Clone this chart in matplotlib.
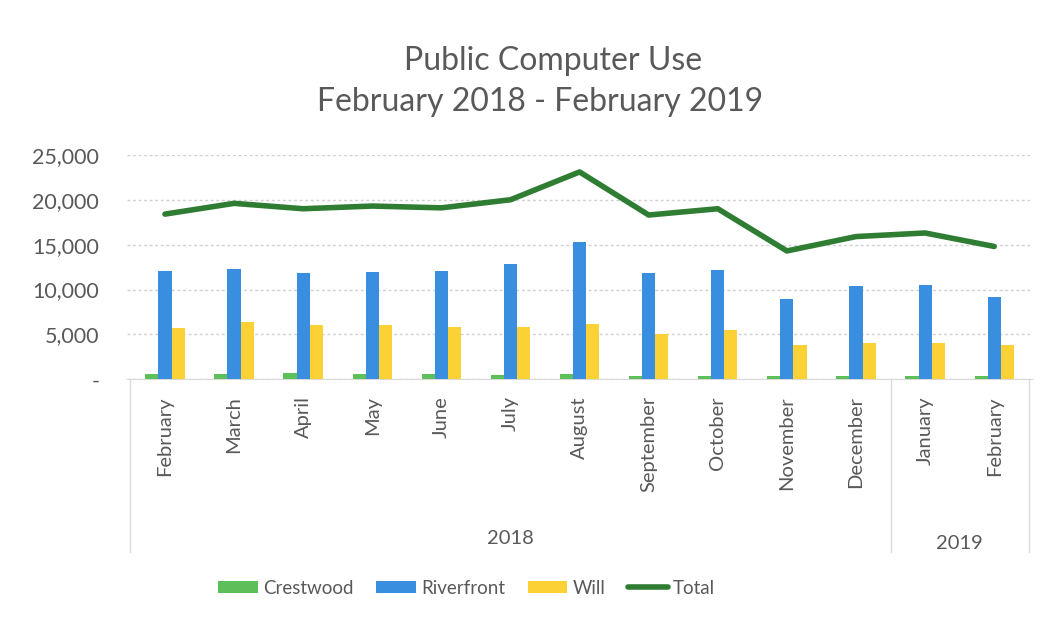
import matplotlib
matplotlib.use('Agg')
import matplotlib.pyplot as plt
import numpy as np

months = ['February', 'March', 'April', 'May', 'June', 'July', 'August',
          'September', 'October', 'November', 'December', 'January', 'February']
years = ['2018', '2019']
year_counts = [11, 2]

crestwood = [600, 620, 650, 550, 560, 520, 560, 420, 380, 420, 330, 320, 400]
riverfront = [12100, 12300, 11800, 12000, 12100, 12900, 15300, 11800, 12200,
              9000, 10400, 10500, 9200]
will = [5700, 6400, 6100, 6000, 5800, 5800, 6200, 5100, 5500, 3800, 4100,
        4100, 3800]
total = [18400, 19600, 19000, 19300, 19100, 20000, 23100, 18300, 19000,
         14300, 15900, 16300, 14800]

plt.rcParams['font.family'] = ['Lato', 'DejaVu Sans']
txt = '#595959'

fig = plt.figure(figsize=(10.49, 6.27), dpi=100)
# plot area ~ x 125..1032, y 155..379 px
ax = fig.add_axes([0.121, 0.395, 0.863, 0.358])

x = np.arange(len(months))
w = 0.19
b1 = ax.bar(x - w, crestwood, w, color='#5cbf5a', label='Crestwood', zorder=3)
b2 = ax.bar(x, riverfront, w, color='#3a8ee0', label='Riverfront', zorder=3)
b3 = ax.bar(x + w, will, w, color='#fcd135', label='Will', zorder=3)
ln, = ax.plot(x, total, color='#2e7d32', lw=4, label='Total', zorder=4,
              solid_capstyle='round')

ax.set_xlim(-0.55, len(months) - 0.45)
ax.set_ylim(0, 25000)
ax.set_yticks(np.arange(0, 25001, 5000))
ax.set_yticklabels(['-'] + ['{:,}'.format(v) for v in range(5000, 25001, 5000)])
ax.yaxis.grid(True, color='#d0d0d0', ls=(0, (2, 2)), lw=1)
ax.tick_params(axis='y', length=0, labelsize=15.5, labelcolor=txt, pad=20)
ax.set_xticks(x)
ax.set_xticklabels(months, rotation=90, fontsize=14.5, color=txt)
ax.tick_params(axis='x', length=0, pad=12)
for s in ['top', 'right', 'left']:
    ax.spines[s].set_visible(False)
ax.spines['bottom'].set_color('#d9d9d9')

# multi-level category axis
trans = ax.get_xaxis_transform()
edges = [-0.5]
for n in year_counts:
    edges.append(edges[-1] + n)
for e in edges:
    ax.plot([e, e], [0, -0.77], transform=trans, color='#dcdcdc', lw=1,
            clip_on=False)
for i, yr in enumerate(years):
    ax.text((edges[i] + edges[i + 1]) / 2, -0.71 - 0.02 * i, yr,
            transform=trans, ha='center', va='center', fontsize=14.5,
            color=txt)

fig.text(0.527, 0.902, 'Public Computer Use', ha='center', va='center',
         fontsize=23, color=txt)
fig.text(0.515, 0.837, 'February 2018 - February 2019', ha='center',
         va='center', fontsize=23, color=txt)

fig.legend([b1, b2, b3, ln], ['Crestwood', 'Riverfront', 'Will', 'Total'],
           loc='center', bbox_to_anchor=(0.445, 0.062), ncol=4,
           frameon=False, fontsize=13.5, labelcolor=txt, handlelength=2.1,
           handleheight=0.6, columnspacing=1.2, handletextpad=0.3)

fig.savefig('out.png', dpi=100)
